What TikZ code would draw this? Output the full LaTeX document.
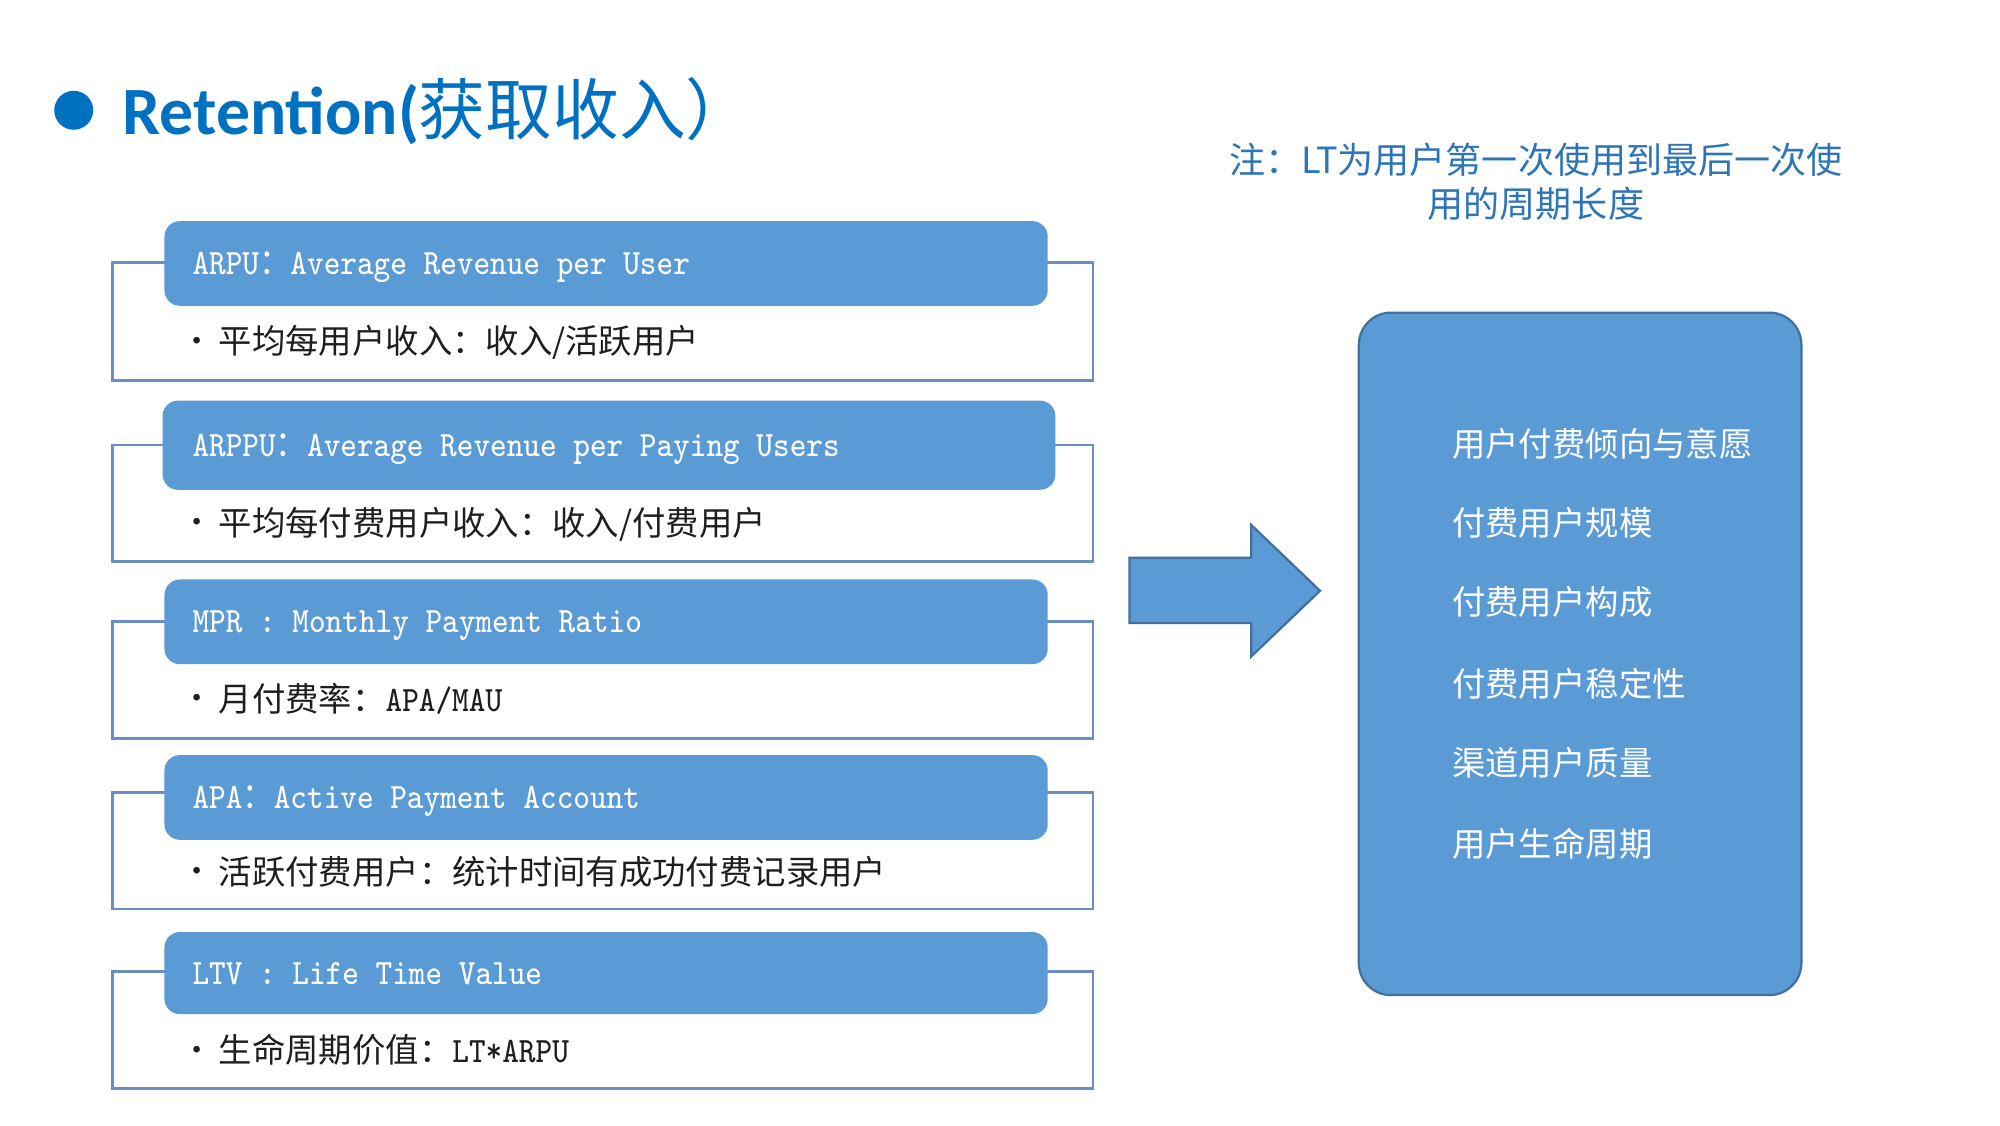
\documentclass[tikz,border=0pt]{standalone}
\usepackage{fontspec}
\usepackage{graphicx}
\newfontfamily\cjk{Noto Sans CJK SC}
\newfontfamily\titlefont{Carlito}
\definecolor{titleblue}{HTML}{0070C0}
\definecolor{hdrfill}{HTML}{5B9BD5}
\definecolor{shapeedge}{HTML}{41719C}
\definecolor{outline}{HTML}{6B8EBE}
\definecolor{notecol}{HTML}{2E75B6}
\definecolor{bodytext}{HTML}{1E1E1E}
\newcommand\hmono[1]{\scalebox{0.88}[1]{\fontsize{7.9pt}{9pt}\ttfamily #1}}
\newcommand\hcolon{{\fontsize{7.9pt}{9pt}\cjk ：}}
\newcommand\bcjk[1]{{\fontsize{7.4pt}{9pt}\cjk #1}}
\tikzset{
  outl/.style={draw=outline, line width=0.6pt},
  hdr/.style={fill=hdrfill, draw=none, rounded corners=0.12cm, inner sep=0pt, minimum height=0.66cm, minimum width=6.885cm},
  hdrtext/.style={anchor=base west, inner sep=0pt, text=white},
  bul/.style={anchor=center, inner sep=0pt, text=bodytext, font=\fontsize{5pt}{6pt}\selectfont},
  bultext/.style={anchor=base west, inner sep=0pt, text=bodytext},
  listtext/.style={anchor=base west, inner sep=0pt, text=white, font=\fontsize{7.4pt}{9pt}\cjk},
  bigshape/.style={fill=hdrfill, draw=shapeedge, line width=0.5pt}
}
\begin{document}
\begin{tikzpicture}[x=0.01cm,y=-0.01cm]
\useasboundingbox (0,0) rectangle (1560,877.5);
\fill[white] (0,0) rectangle (1560,877.5);

% title
\fill[titleblue] (57.5,86) circle (15.2);
\node[anchor=base west, inner sep=0pt, text=titleblue] (title) at (95,104.6)
  {{\fontsize{15pt}{17pt}\titlefont\bfseries Retention(}{\fontsize{14.8pt}{16pt}\cjk 获取收入）}};

% note
\node[anchor=center, inner sep=0pt, align=center, text=notecol, font=\fontsize{8pt}{9.67pt}\cjk] (note) at (1198,142)
  {注：LT为用户第一次使用到最后一次使\\用的周期长度};

% box 1
\draw[outl] (88,205) rectangle (852.5,296.5);
\node[hdr] (h1) at (472.75,205.5) {};
\node[hdrtext] (h1t) at (149.5,214) {\hmono{ARPU\hcolon Average Revenue per User}};
\node[bul] (b1) at (153.4,266) {\textbullet};
\node[bultext] (t1) at (170,276) {\bcjk{平均每用户收入：收入/活跃用户}};

% box 2
\draw[outl] (88,347) rectangle (852.5,438);
\node[hdr, minimum width=6.96cm, minimum height=0.695cm] (h2) at (475,347.25) {};
\node[hdrtext] (h2t) at (149.5,356) {\hmono{ARPPU\hcolon Average Revenue per Paying Users}};
\node[bul] (b2) at (153.4,407.5) {\textbullet};
\node[bultext] (t2) at (170,417.5) {\bcjk{平均每付费用户收入：收入/付费用户}};

% box 3
\draw[outl] (88,485) rectangle (852.5,576);
\node[hdr] (h3) at (472.75,485) {};
\node[hdrtext] (h3t) at (149.5,493.5) {\hmono{MPR : Monthly Payment Ratio}};
\node[bul] (b3) at (153.4,545) {\textbullet};
\node[bultext] (t3) at (170,555) {\bcjk{月付费率：}\hmono{APA/MAU}};

% box 4
\draw[outl] (88,618) rectangle (852.5,709);
\node[hdr] (h4) at (472.75,622) {};
\node[hdrtext] (h4t) at (149.5,630.5) {\hmono{APA\hcolon Active Payment Account}};
\node[bul] (b4) at (153.4,680) {\textbullet};
\node[bultext] (t4) at (170,690) {\bcjk{活跃付费用户：统计时间有成功付费记录用户}};

% box 5
\draw[outl] (88,758) rectangle (852.5,849);
\node[hdr, minimum height=0.64cm] (h5) at (472.75,759) {};
\node[hdrtext] (h5t) at (149.5,767.5) {\hmono{LTV : Life Time Value}};
\node[bul] (b5) at (153.4,819) {\textbullet};
\node[bultext] (t5) at (170,829) {\bcjk{生命周期价值：}\hmono{LT*ARPU}};

% arrow
\draw[bigshape] (881,435) -- (976,435) -- (976,409.5) -- (1029.6,460.8) -- (976,512) -- (976,486) -- (881,486) -- cycle;

% right box
\node[bigshape, rounded corners=0.25cm, minimum width=3.45cm, minimum height=5.32cm, inner sep=0pt] (rbox) at (1232.5,510) {};
\node[listtext] (r1) at (1132,356) {用户付费倾向与意愿};
\node[listtext] (r2) at (1132,418) {付费用户规模};
\node[listtext] (r3) at (1132,479) {付费用户构成};
\node[listtext] (r4) at (1132,543.5) {付费用户稳定性};
\node[listtext] (r5) at (1132,605) {渠道用户质量};
\node[listtext] (r6) at (1132,668) {用户生命周期};
\end{tikzpicture}
\end{document}
